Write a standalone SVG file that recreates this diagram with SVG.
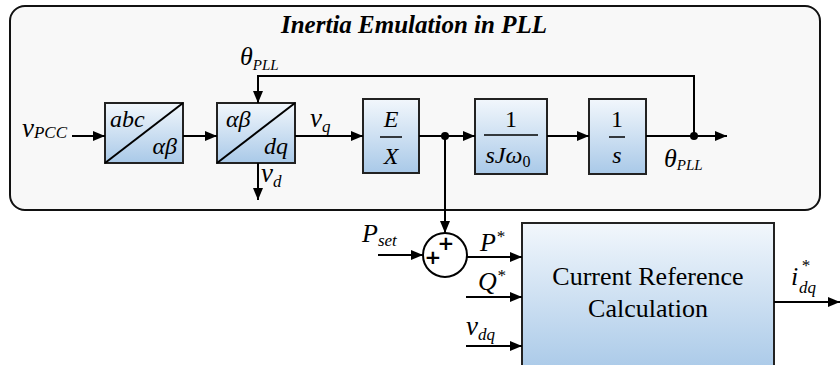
<svg xmlns="http://www.w3.org/2000/svg" width="840" height="365" viewBox="0 0 840 365">
<defs>
<linearGradient id="g" x1="0" y1="0" x2="0" y2="1">
<stop offset="0" stop-color="#f2f7fc"/>
<stop offset="1" stop-color="#a9c9e8"/>
</linearGradient>
<marker id="a" viewBox="0 0 12 10" refX="12" refY="5" markerWidth="12" markerHeight="10" markerUnits="userSpaceOnUse" orient="auto">
<path d="M0,0 L12,5 L0,10 Z" fill="#000"/>
</marker>
<style>
.blk{fill:url(#g);stroke:#222;stroke-width:2}
.ar{fill:none;stroke:#000;stroke-width:2;marker-end:url(#a)}
text{font-family:'Liberation Serif','Times New Roman',serif;fill:#000}
.m{font-style:italic}
.pl{font-family:'DejaVu Sans',sans-serif;font-weight:bold;font-size:20px}
</style>
</defs>
<g id="container">
<rect x="10" y="6" width="810" height="204" rx="15" fill="#f8f8f8" stroke="#111" stroke-width="2"/>
<text x="414" y="33" text-anchor="middle" font-size="25" font-weight="bold" font-style="italic">Inertia Emulation in PLL</text>
</g>
<g id="abc2ab">
<rect class="blk" x="105" y="103" width="78" height="60"/>
<line x1="105" y1="163" x2="183" y2="103" stroke="#000" stroke-width="2"/>
<text x="110" y="127" class="m" font-size="24">abc</text>
<text x="177" y="154" class="m" font-size="24" text-anchor="end">αβ</text>
</g>
<g id="ab2dq">
<rect class="blk" x="217" y="103" width="78" height="60"/>
<line x1="217" y1="163" x2="295" y2="103" stroke="#000" stroke-width="2"/>
<text x="226" y="127" class="m" font-size="24">αβ</text>
<text x="288" y="154" class="m" font-size="24" text-anchor="end">dq</text>
</g>
<g id="EX">
<rect class="blk" x="363" y="99" width="56" height="74"/>
<text x="391" y="127" class="m" font-size="24" text-anchor="middle">E</text>
<line x1="380" y1="137" x2="402" y2="137" stroke="#000" stroke-width="1.5"/>
<text x="391" y="164" class="m" font-size="24" text-anchor="middle">X</text>
</g>
<g id="inertia">
<rect class="blk" x="475" y="99" width="72" height="75"/>
<text x="511" y="127" font-size="24" text-anchor="middle">1</text>
<line x1="484" y1="135" x2="538" y2="135" stroke="#000" stroke-width="1.5"/>
<text x="508" y="163" class="m" font-size="24" text-anchor="middle">sJω<tspan font-size="16" font-style="normal" dy="4">0</tspan></text>
</g>
<g id="integrator">
<rect class="blk" x="589" y="99" width="57" height="75"/>
<text x="617" y="127" font-size="24" text-anchor="middle">1</text>
<line x1="609" y1="137" x2="625" y2="137" stroke="#000" stroke-width="1.5"/>
<text x="617" y="163" class="m" font-size="24" text-anchor="middle">s</text>
</g>
<g id="sum">
<circle cx="445" cy="255" r="22" fill="#fff" stroke="#000" stroke-width="2"/>
<text x="446" y="250" class="pl" text-anchor="middle">+</text>
<text x="433" y="264" class="pl" text-anchor="middle">+</text>
</g>
<g id="currentref">
<rect class="blk" x="522" y="223" width="252" height="150"/>
<text x="648" y="285" font-size="26" text-anchor="middle">Current Reference</text>
<text x="648" y="317" font-size="26" text-anchor="middle">Calculation</text>
</g>
<g id="connectors">
<line class="ar" x1="72" y1="136" x2="105" y2="136"/>
<line class="ar" x1="183" y1="136" x2="217" y2="136"/>
<line class="ar" x1="295" y1="136" x2="363" y2="136"/>
<line class="ar" x1="419" y1="136" x2="475" y2="136"/>
<line class="ar" x1="547" y1="136" x2="589" y2="136"/>
<line class="ar" x1="646" y1="136" x2="727" y2="136"/>
<polyline class="ar" points="694,136 694,76 258,76 258,103"/>
<line class="ar" x1="258" y1="163" x2="258" y2="200"/>
<line class="ar" x1="445" y1="136" x2="445" y2="233"/>
<circle cx="445" cy="136" r="4" fill="#000"/>
<circle cx="694" cy="136" r="4" fill="#000"/>
<line class="ar" x1="378" y1="255" x2="423" y2="255"/>
<line class="ar" x1="467" y1="257" x2="522" y2="257"/>
<line class="ar" x1="466" y1="297" x2="522" y2="297"/>
<line class="ar" x1="466" y1="346" x2="522" y2="346"/>
<line class="ar" x1="774" y1="302" x2="840" y2="302"/>
</g>
<g id="labels">
<text x="22" y="137" class="m" font-size="27">v<tspan font-size="17" dy="1">PCC</tspan></text>
<text x="240" y="65" class="m" font-size="26">θ<tspan font-size="15" dy="5">PLL</tspan></text>
<text x="664" y="167" class="m" font-size="26">θ<tspan font-size="15" dy="3">PLL</tspan></text>
<text x="310" y="127" class="m" font-size="27">v<tspan font-size="17" dy="5">q</tspan></text>
<text x="261" y="182" class="m" font-size="27">v<tspan font-size="17" dy="5">d</tspan></text>
<text x="362" y="242" class="m" font-size="26">P<tspan font-size="17" dy="4">set</tspan></text>
<text x="480" y="251" class="m" font-size="26">P<tspan font-size="17" dy="-9">*</tspan></text>
<text x="478" y="290" class="m" font-size="26">Q<tspan font-size="17" dy="-9">*</tspan></text>
<text x="466" y="335" class="m" font-size="27">v<tspan font-size="17" dy="5">dq</tspan></text>
<text x="791" y="285" class="m" font-size="26">i</text>
<text x="801" y="271" class="m" font-size="17">*</text>
<text x="799" y="293" class="m" font-size="17">dq</text>
</g>
</svg>
